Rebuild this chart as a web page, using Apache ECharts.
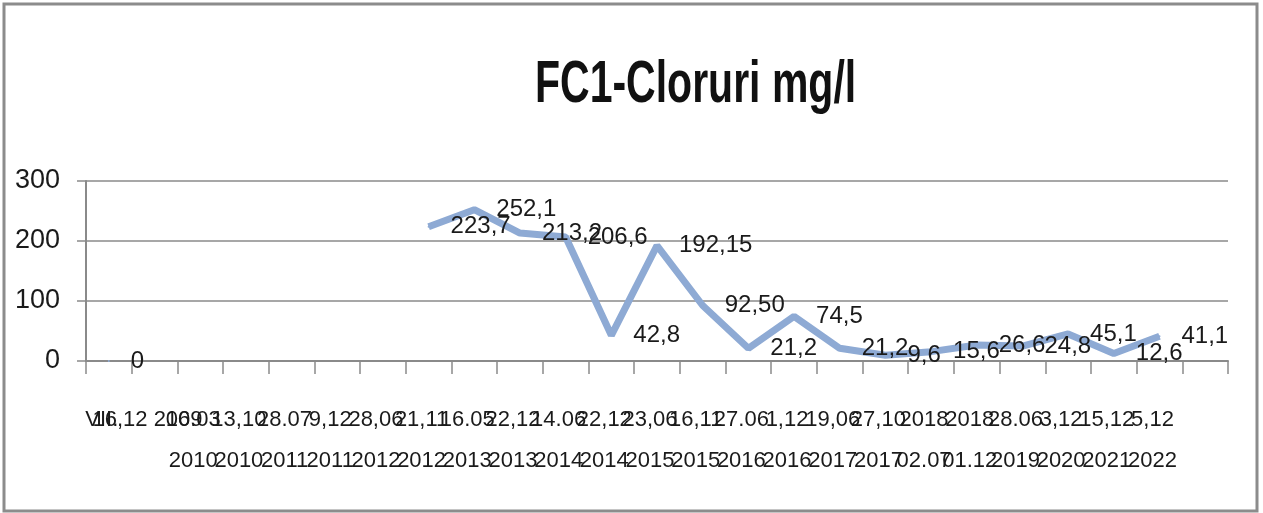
<!DOCTYPE html>
<html><head><meta charset="utf-8">
<script src="https://cdn.jsdelivr.net/npm/echarts@6/dist/echarts.min.js"></script>
<style>html,body{margin:0;padding:0;background:#fff}#c{width:1263px;height:513px}</style>
</head><body><div id="c"></div>
<script>
const categories = ['VII.', '16,12 2009', '16.03\n2010', '13,10\n2010', '28.07\n2011', '9,12\n2011', '28,06\n2012', '21,11\n2012', '16.05\n2013', '22,12\n2013', '14.06\n2014', '22,12\n2014', '23,06\n2015', '16,11\n2015', '27.06\n2016', '1,12\n2016', '19,06\n2017', '27,10\n2017', '2018\n02.07', '2018\n01.12', '28.06\n2019', '3,12\n2020', '15,12\n2021', '5,12\n2022', ''];
const chloride = [0, null, null, null, null, null, null, 223.7, 252.1, 213.2, 206.6, 42.8, 192.15, 92.50, 21.2, 74.5, 21.2, 9.6, 15.6, 26.6, 24.8, 45.1, 12.6, 41.1, null];
const valueLabels = ['0', '', '', '', '', '', '', '223,7', '252,1', '213,2', '206,6', '42,8', '192,15', '92,50', '21,2', '74,5', '21,2', '9,6', '15,6', '26,6', '24,8', '45,1', '12,6', '41,1', ''];
const yTicks = [0, 100, 200, 300];
const titleText = 'FC1-Cloruri mg/l';

const FONT = '"Liberation Sans", Arial, sans-serif';
const chart = echarts.init(document.getElementById('c'), null, {renderer: 'canvas'});
chart.setOption({
  backgroundColor: '#ffffff',
  animation: false,
  graphic: [{
    type: 'rect', silent: true,
    shape: {x: 4, y: 4, width: 1253, height: 507},
    style: {fill: null, stroke: '#8c8c8c', lineWidth: 3}
  }, {
    type: 'text', silent: true,
    x: 535, y: 56, scaleY: 1.45,
    style: {
      text: titleText, fontFamily: FONT, fontSize: 41, fontWeight: 'bold',
      fill: '#111', textVerticalAlign: 'top', textAlign: 'left'
    }
  }],
  grid: {left: 86, right: 35, top: 181, bottom: 152, containLabel: false},
  xAxis: {
    type: 'category',
    data: categories,
    boundaryGap: true,
    axisLine: {show: true, lineStyle: {color: '#8a8a8a', width: 2}},
    axisTick: {show: true, interval: 0, length: 13, lineStyle: {color: '#8a8a8a', width: 1.5}},
    axisLabel: {
      interval: 0, hideOverlap: false, margin: 38,
      fontFamily: FONT, fontSize: 22, lineHeight: 41, color: '#1a1a1a',
      padding: [0, 14, 0, 0]
    },
    splitLine: {show: false}
  },
  yAxis: {
    type: 'value',
    min: yTicks[0], max: yTicks[yTicks.length - 1], interval: 100,
    axisLine: {show: true, lineStyle: {color: '#8a8a8a', width: 2}},
    axisTick: {show: true, length: 9, lineStyle: {color: '#8a8a8a', width: 1.5}},
    axisLabel: {margin: 26, fontFamily: FONT, fontSize: 27, color: '#1a1a1a'},
    splitLine: {show: true, lineStyle: {color: '#8a8a8a', width: 1.5}}
  },
  series: [{
    type: 'line',
    data: chloride,
    connectNulls: false,
    symbol: 'circle',
    symbolSize: 2,
    showSymbol: true,
    itemStyle: {color: '#8eaad4', borderWidth: 0},
    lineStyle: {color: '#8eaad4', width: 7},
    label: {
      show: true, position: 'right', distance: 21,
      fontFamily: FONT, fontSize: 24, color: '#1a1a1a',
      formatter: p => valueLabels[p.dataIndex]
    },
    labelLayout: {hideOverlap: false}
  }]
});
</script>
</body></html>
